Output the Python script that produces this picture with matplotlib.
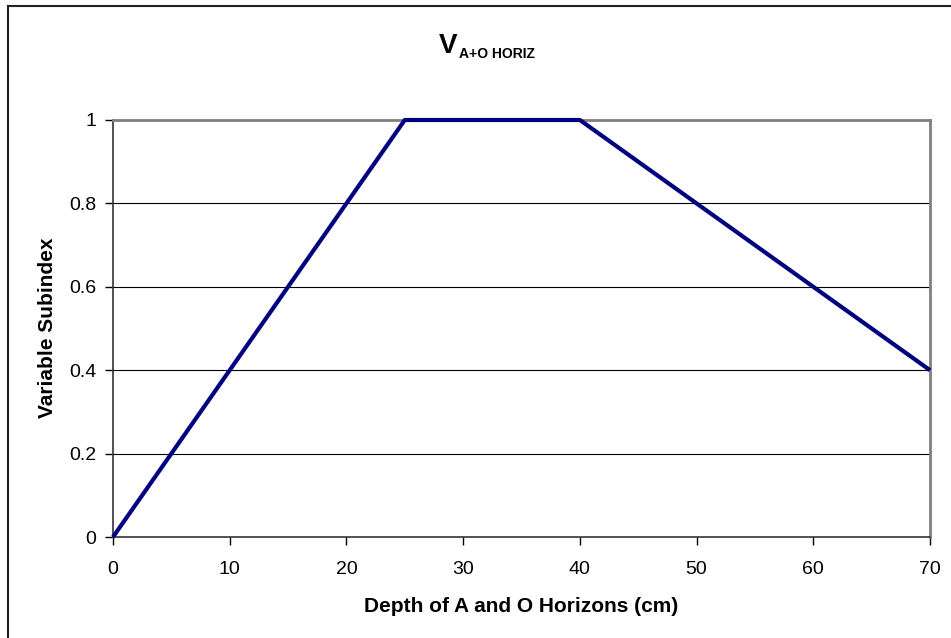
import matplotlib.pyplot as plt
from matplotlib.lines import Line2D

## DATA
depth = [0, 25, 40, 70]
subindex = [0, 1, 1, 0.4]
x_ticks = [0, 10, 20, 30, 40, 50, 60, 70]
y_ticks = [0, 0.2, 0.4, 0.6, 0.8, 1]
y_labels = ['0', '0.2', '0.4', '0.6', '0.8', '1']

plt.rcParams['font.family'] = ['Liberation Sans', 'DejaVu Sans']

fig = plt.figure(figsize=(9.51, 6.38), dpi=100)
ax = fig.add_axes([113/951, 1-537/638, (930-113)/951, (537-120)/638])

# GRID
for v in y_ticks[1:-1]:
    ax.axhline(v, color='black', lw=0.8, zorder=1)

ax.plot(depth, subindex, color='#000080', lw=3, zorder=3, clip_on=False, solid_capstyle='butt')

ax.set_xlim(0, 70)
ax.set_ylim(0, 1)
ax.set_xticks(x_ticks)
ax.set_yticks(y_ticks)
ax.set_yticklabels(y_labels)
ax.tick_params(axis='both', direction='out', length=6, width=1, labelsize=14, color='black')
ax.tick_params(axis='x', pad=11)
ax.tick_params(axis='y', pad=6)

for s in ['top', 'right']:
    ax.spines[s].set_color('#808080')
    ax.spines[s].set_linewidth(2)
for s in ['left', 'bottom']:
    ax.spines[s].set_color('#333333')
    ax.spines[s].set_linewidth(1.2)

# AXIS LABELS
fig.text(521/951, 1-612/638, 'Depth of A and O Horizons (cm)', fontsize=15, fontweight='bold', ha='center', va='baseline')
fig.text(53/951, 1-328/638, 'Variable Subindex', fontsize=15, fontweight='bold', ha='center', va='baseline',
         rotation=90, rotation_mode='anchor')

# TITLE
fig.text(457/951, 1-53/638, 'V', fontsize=20, fontweight='bold', ha='right', va='baseline')
fig.text(459/951, 1-58/638, 'A+O HORIZ', fontsize=10, fontweight='bold', ha='left', va='baseline')

# OUTER BORDER
fig.add_artist(Line2D([8/951, 8/951], [0, 1-6/638], color='#222222', lw=1.5, transform=fig.transFigure))
fig.add_artist(Line2D([8/951, 1], [1-6/638, 1-6/638], color='#222222', lw=1.5, transform=fig.transFigure))

plt.savefig('out.png', dpi=100)
